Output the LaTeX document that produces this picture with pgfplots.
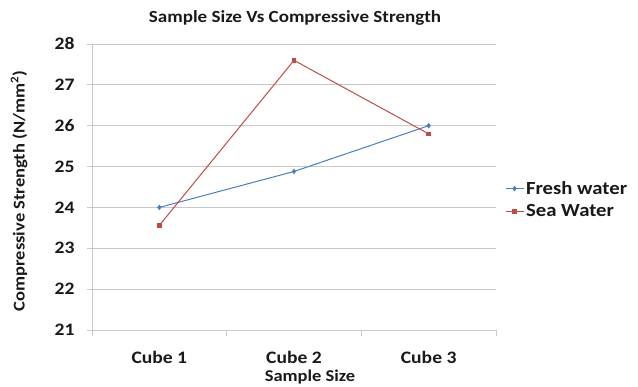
\documentclass[border=0pt]{standalone}
\usepackage{pgfplots}
\pgfplotsset{compat=1.18}
\usepackage{fontspec}
\setmainfont{Carlito}[FakeStretch=1.12]
\definecolor{freshblue}{HTML}{4A7EBB}
\definecolor{seared}{HTML}{BE4B48}
\definecolor{gridgray}{HTML}{C8C8C8}
\begin{document}
\begin{tikzpicture}[x=1pt,y=1pt]
\begin{axis}[
  scale only axis, width=404pt, height=286pt,
  xmin=0, xmax=3, ymin=21, ymax=28,
  axis x line=bottom, axis y line=left,
  axis line style={gridgray, line width=0.8pt, -},
  xtick={0.5,1.5,2.5},
  xticklabels={Cube 1, Cube 2, Cube 3},
  minor xtick={0,1,2,3},
  major x tick style={draw=none},
  minor x tick style={gridgray, line width=0.8pt},
  minor tick length=6pt,
  ytick={21,22,...,28},
  ymajorgrids,
  major grid style={gridgray, line width=0.8pt},
  y tick style={gridgray, line width=0.8pt},
  major tick length=5pt,
  tick align=outside,
  /pgf/number format/assume math mode=true,
  ticklabel style={font=\fontsize{17.5}{19}\selectfont\bfseries, text=black!90},
  xticklabel style={yshift=-13pt},
  yticklabel style={xshift=-9pt},
  clip=false,
  legend cell align=left,
  legend style={at={(1.022,0.455)}, anchor=west, draw=none, fill=none,
    font=\fontsize{18.5}{20}\selectfont\bfseries, text=black!90,
    row sep=5pt, inner sep=0pt},
  legend image code/.code={\draw[mark repeat=2,mark phase=2] plot coordinates {(0pt,0pt) (9pt,0pt) (18pt,0pt)};},
]
\addplot[freshblue, line width=1pt, mark=diamond*, mark size=2pt] coordinates {(0.5,24.0) (1.5,24.88) (2.5,26.0)};
\addlegendentry{Fresh water}
\addplot[seared, line width=1pt, mark=square*, mark size=1.8pt] coordinates {(0.5,23.56) (1.5,27.6) (2.5,25.8)};
\addlegendentry{Sea Water}
\coordinate (o) at (rel axis cs:0,0);
\end{axis}
\begin{scope}[shift={(o)}, shift={(-92,-57)}]
\useasboundingbox (0,0) rectangle (638,387);
\node[font=\fontsize{17}{19}\selectfont\bfseries, text=black!90] at (295,369) {Sample Size Vs Compressive Strength};
\node[font=\fontsize{16.5}{18}\selectfont\bfseries, text=black!90] at (310,10) {Sample Size};
\node[font=\fontsize{16.5}{18}\selectfont\bfseries, text=black!90, rotate=90] at (19,196) {Compressive Strength (N/mm\textsuperscript{2})};
\end{scope}
\end{tikzpicture}
\end{document}
